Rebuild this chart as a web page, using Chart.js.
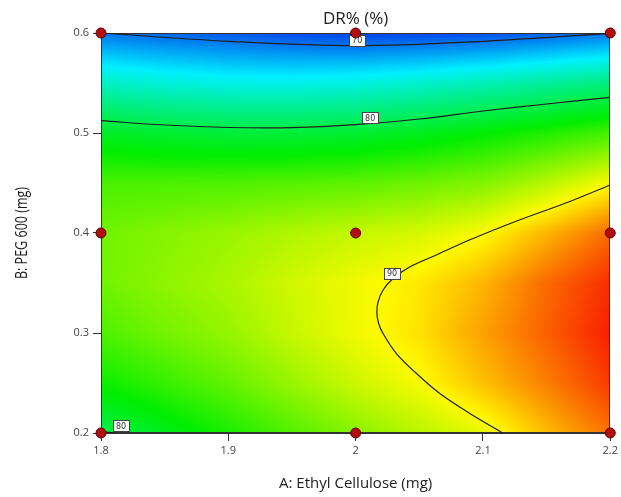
<!DOCTYPE html>
<html>
<head>
<meta charset="utf-8">
<script src="https://cdn.jsdelivr.net/npm/chart.js@4.4.0/dist/chart.umd.min.js"></script>
<style>
  html, body { margin: 0; padding: 0; background: #fff; }
  #wrap { width: 621px; height: 497px; }
</style>
</head>
<body>
<div id="wrap"><canvas id="myChart" width="621" height="497"></canvas></div>
<script>
// factor levels of the surface grid
const ethylCellulose = [1.8, 1.85, 1.9, 1.95, 2.0, 2.05, 2.1, 2.15, 2.2];
const peg600 = [0.2, 0.25, 0.3, 0.35, 0.4, 0.45, 0.5, 0.55, 0.6];

// DR%, one row per PEG 600 level (0.2 -> 0.6)
const drRow020 = [80.0, 81.6, 83.2, 84.9, 86.5, 87.9, 89.3, 91.8, 94.0];
const drRow025 = [82.8, 84.1, 85.4, 87.0, 88.5, 89.8, 91.7, 93.6, 95.6];
const drRow030 = [84.8, 85.9, 86.9, 88.3, 89.6, 90.7, 92.6, 94.5, 96.4];
const drRow035 = [85.8, 86.7, 87.5, 88.6, 89.6, 90.5, 92.0, 94.2, 96.0];
const drRow040 = [85.8, 86.4, 87.0, 87.7, 88.3, 88.8, 89.9, 92.0, 94.2];
const drRow045 = [84.6, 84.7, 84.8, 85.0, 85.2, 85.7, 86.3, 87.9, 89.8];
const drRow050 = [81.3, 80.9, 80.6, 80.6, 80.9, 81.5, 82.4, 83.4, 84.5];
const drRow055 = [76.0, 75.3, 74.8, 74.7, 75.0, 75.6, 76.4, 77.3, 78.3];
const drRow060 = [70.0, 69.5, 69.05, 68.6, 68.3, 68.4, 68.7, 69.3, 70.0];
const drRows = [drRow020, drRow025, drRow030, drRow035, drRow040, drRow045, drRow050, drRow055, drRow060];

// contour lines
const contour70A = [1.8, 1.9, 2.0, 2.1, 2.2];
const contour70B = [0.600, 0.5917, 0.5873, 0.5917, 0.5997];
const contour80A = [1.8, 1.85, 1.9, 1.95, 2.0, 2.05, 2.1, 2.15, 2.2];
const contour80B = [0.5123, 0.508, 0.5055, 0.5053, 0.5083, 0.514, 0.522, 0.529, 0.5357];
const contour90A = [2.2, 2.1678, 2.1286, 2.0894, 2.0633, 2.0424, 2.029, 2.0216, 2.0176, 2.0167, 2.018, 2.0214, 2.0319, 2.0476, 2.0659, 2.0894, 2.1155];
const contour90B = [0.448, 0.4313, 0.413, 0.393, 0.378, 0.366, 0.354, 0.343, 0.331, 0.3197, 0.310, 0.2997, 0.2797, 0.2597, 0.2397, 0.2197, 0.2];
const contour80cornerA = [1.8, 1.806, 1.812];
const contour80cornerB = [0.2012, 0.2006, 0.2];

// contour label anchors
const labelValues = ['70', '80', '90', '80'];
const labelA = [2.0008, 2.011, 2.0282, 1.8154];
const labelB = [0.593, 0.5152, 0.36, 0.2072];

// design points
const designA = [1.8, 2.0, 2.2, 1.8, 2.0, 2.2, 1.8, 2.0, 2.2];
const designB = [0.6, 0.6, 0.6, 0.4, 0.4, 0.4, 0.2, 0.2, 0.2];

// ticks
const xTicks = [1.8, 1.9, 2.0, 2.1, 2.2];
const xTickLabels = ['1.8', '1.9', '2', '2.1', '2.2'];
const yTicks = [0.2, 0.3, 0.4, 0.5, 0.6];
const yTickLabels = ['0.2', '0.3', '0.4', '0.5', '0.6'];
const yTitle = 'B: PEG 600 (mg)';

// colour ramp (blue - cyan - green - yellow - red)
const rampValues = [66.5, 74, 82.5, 90, 97];
const rampColors = [[0, 10, 225], [0, 240, 255], [0, 238, 0], [255, 250, 0], [248, 10, 0]];

function toPoints(xs, ys) {
    return xs.map((v, i) => ({ x: v, y: ys[i] }));
}

function findCell(arr, v) {
    let i = 0;
    while (i < arr.length - 2 && v > arr[i + 1]) i++;
    const t = (v - arr[i]) / (arr[i + 1] - arr[i]);
    return [i, Math.max(0, Math.min(1, t))];
}

function surfaceAt(a, b) {
    const [i, tx] = findCell(ethylCellulose, a);
    const [j, ty] = findCell(peg600, b);
    const v00 = drRows[j][i], v10 = drRows[j][i + 1];
    const v01 = drRows[j + 1][i], v11 = drRows[j + 1][i + 1];
    return (v00 * (1 - tx) + v10 * tx) * (1 - ty) + (v01 * (1 - tx) + v11 * tx) * ty;
}

function rampColor(v) {
    if (v <= rampValues[0]) return rampColors[0];
    const n = rampValues.length - 1;
    if (v >= rampValues[n]) return rampColors[n];
    let k = 0;
    while (v > rampValues[k + 1]) k++;
    const t = (v - rampValues[k]) / (rampValues[k + 1] - rampValues[k]);
    const c0 = rampColors[k], c1 = rampColors[k + 1];
    return [0, 1, 2].map(m => Math.round(c0[m] + (c1[m] - c0[m]) * t));
}

// paints the response surface inside the plot area, plus labels and the narrow y title
const surfacePlugin = {
    id: 'surface',
    beforeDatasetsDraw(chart) {
        const { ctx, chartArea, scales } = chart;
        const left = Math.round(chartArea.left), top = Math.round(chartArea.top);
        const w = Math.round(chartArea.right) - left, h = Math.round(chartArea.bottom) - top;
        const off = document.createElement('canvas');
        off.width = w; off.height = h;
        const octx = off.getContext('2d');
        const img = octx.createImageData(w, h);
        for (let py = 0; py < h; py++) {
            const b = scales.y.getValueForPixel(top + py + 0.5);
            for (let px = 0; px < w; px++) {
                const a = scales.x.getValueForPixel(left + px + 0.5);
                const c = rampColor(surfaceAt(a, b));
                const k = (py * w + px) * 4;
                img.data[k] = c[0]; img.data[k + 1] = c[1]; img.data[k + 2] = c[2]; img.data[k + 3] = 255;
            }
        }
        octx.putImageData(img, 0, 0);
        ctx.save();
        ctx.drawImage(off, left, top);
        ctx.strokeStyle = '#333';
        ctx.lineWidth = 1;
        ctx.strokeRect(left + 0.5, top + 0.5, w - 1, h - 1);
        ctx.restore();
    },
    beforeDatasetDraw(chart, args) {
        if (args.index !== 0) return;
        const { ctx, scales } = chart;
        ctx.save();
        ctx.font = '8px "DejaVu Sans", sans-serif';
        ctx.textAlign = 'center';
        ctx.textBaseline = 'middle';
        labelValues.forEach((txt, i) => {
            const cx = scales.x.getPixelForValue(labelA[i]);
            const cy = scales.y.getPixelForValue(labelB[i]);
            const bw = 16, bh = 11;
            const bx = Math.round(cx - bw / 2) + 0.5, by = Math.round(cy - bh / 2) + 0.5;
            ctx.fillStyle = '#fff';
            ctx.fillRect(bx, by, bw, bh);
            ctx.strokeStyle = '#444';
            ctx.lineWidth = 1;
            ctx.strokeRect(bx, by, bw, bh);
            ctx.fillStyle = '#333';
            ctx.fillText(txt, cx + 0.5, cy + 1);
        });
        ctx.restore();
    },
    afterDraw(chart) {
        const { ctx, chartArea } = chart;
        ctx.save();
        ctx.translate(22, (chartArea.top + chartArea.bottom) / 2);
        ctx.rotate(-Math.PI / 2);
        ctx.scale(0.76, 1);
        ctx.font = "16.5px 'Open Sans', sans-serif";
        ctx.fillStyle = '#1a1a1a';
        ctx.textAlign = 'center';
        ctx.textBaseline = 'middle';
        ctx.fillText(yTitle, 0, 0);
        ctx.restore();
    }
};

const contourStyle = {
    showLine: true,
    borderColor: '#1e1e1e',
    borderWidth: 1.2,
    pointRadius: 0,
    tension: 0.35,
    order: 1
};

const ctx = document.getElementById('myChart').getContext('2d');
new Chart(ctx, {
    type: 'scatter',
    data: {
        datasets: [
            {
                label: 'Design points',
                data: toPoints(designA, designB),
                pointRadius: 5,
                pointBackgroundColor: '#b30c0c',
                pointBorderColor: '#5c0000',
                pointBorderWidth: 1,
                clip: false,
                order: 0
            },
            { label: '70', data: toPoints(contour70A, contour70B), ...contourStyle },
            { label: '80', data: toPoints(contour80A, contour80B), ...contourStyle },
            { label: '90', data: toPoints(contour90A, contour90B), ...contourStyle },
            { label: '80 corner', data: toPoints(contour80cornerA, contour80cornerB), ...contourStyle, tension: 0 }
        ]
    },
    options: {
        responsive: false,
        animation: false,
        devicePixelRatio: 1,
        layout: { padding: { left: 12, right: 10, top: 0, bottom: 4 } },
        plugins: {
            legend: { display: false },
            tooltip: { enabled: false },
            title: {
                display: true,
                text: 'DR% (%)',
                fullSize: false,
                color: '#222',
                font: { family: "'Open Sans', sans-serif", size: 17, weight: 'normal' },
                padding: { top: 9, bottom: 3.6 }
            }
        },
        scales: {
            x: {
                type: 'linear',
                min: 1.8,
                max: 2.2,
                afterBuildTicks: s => { s.ticks = xTicks.map(v => ({ value: v })); },
                afterFit: s => { s.height = 60; },
                ticks: {
                    callback: (v, i) => xTickLabels[i],
                    color: '#444',
                    font: { family: "'Open Sans', sans-serif", size: 11 },
                    padding: 3,
                    maxRotation: 0
                },
                grid: { drawOnChartArea: false, drawTicks: true, tickLength: 8, color: '#333' },
                border: { display: true, color: '#333' },
                title: {
                    display: true,
                    text: 'A: Ethyl Cellulose (mg)',
                    color: '#222',
                    font: { family: "'Open Sans', sans-serif", size: 15 },
                    padding: { top: 0, bottom: 0 }
                }
            },
            y: {
                type: 'linear',
                min: 0.2,
                max: 0.6,
                afterBuildTicks: s => { s.ticks = yTicks.map(v => ({ value: v })); },
                afterFit: s => { s.width = 89; },
                ticks: {
                    callback: (v, i) => yTickLabels[i],
                    color: '#444',
                    font: { family: "'Open Sans', sans-serif", size: 11 },
                    padding: 4
                },
                grid: { drawOnChartArea: false, drawTicks: true, tickLength: 8, color: '#333' },
                border: { display: true, color: '#333' },
                title: { display: false }
            }
        }
    },
    plugins: [surfacePlugin]
});
</script>
</body>
</html>
